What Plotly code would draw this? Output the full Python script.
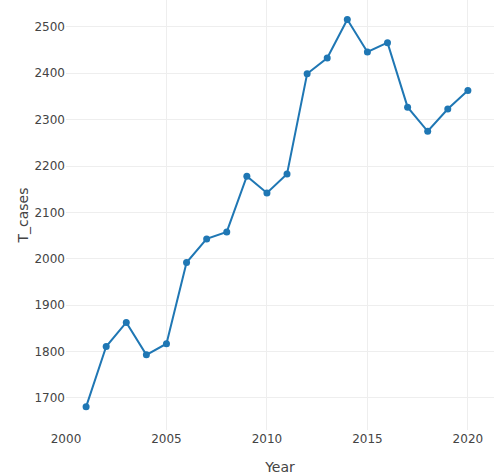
import plotly.graph_objects as go

years = list(range(2001, 2021))
t_cases = [1681, 1811, 1863, 1793, 1817, 1992, 2043, 2058, 2178, 2142,
           2183, 2399, 2433, 2516, 2446, 2466, 2327, 2275, 2323, 2363]

fig = go.Figure(go.Scatter(
    x=years, y=t_cases, mode="lines+markers",
    line=dict(color="#1f77b4", width=2),
    marker=dict(color="#1f77b4", size=7),
))

fig.update_layout(
    template="none",
    width=494, height=475,
    margin=dict(l=66, r=0, t=0, b=45),
    paper_bgcolor="white", plot_bgcolor="white",
    font=dict(family="Verdana, DejaVu Sans, sans-serif", size=12, color="#444"),
    showlegend=False,
    xaxis=dict(title=dict(text="Year", font=dict(size=14)), range=[2000, 2021.3],
               tickvals=[2000, 2005, 2010, 2015, 2020], zeroline=False,
               gridcolor="#eeeeee", showline=False, ticks=""),
    yaxis=dict(title=dict(text="T_cases", font=dict(size=14)), range=[1631, 2558],
               tickvals=[1700, 1800, 1900, 2000, 2100, 2200, 2300, 2400, 2500], zeroline=False,
               gridcolor="#eeeeee", showline=False, ticks=""),
)

fig.write_html("out.html",
               config={"displayModeBar": False},
               post_script="document.body.style.margin='0';document.body.style.overflow='hidden';")
